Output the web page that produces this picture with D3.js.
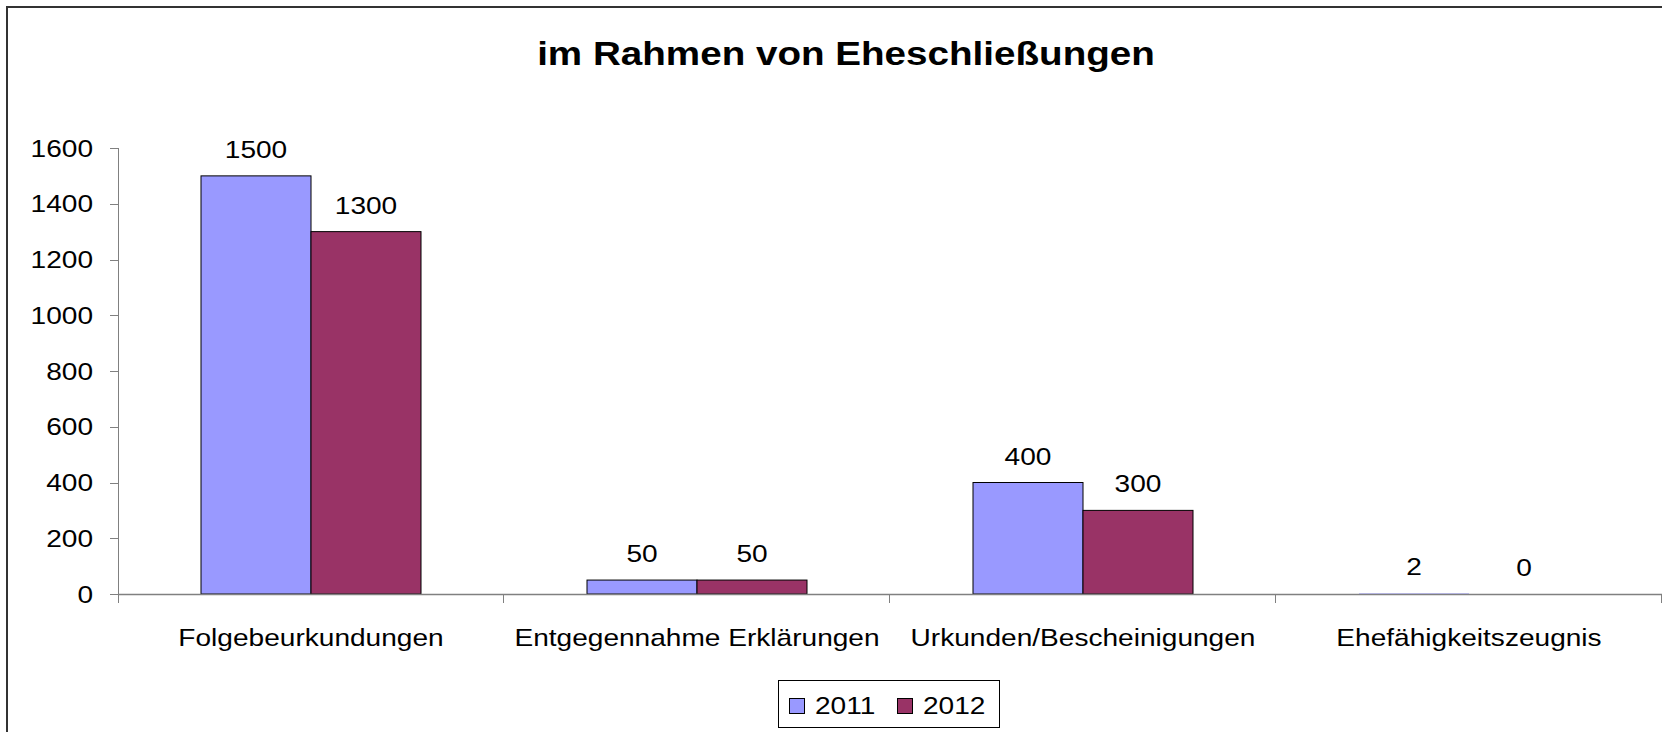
<!DOCTYPE html>
<html>
<head>
<meta charset="utf-8">
<script src="https://cdn.jsdelivr.net/npm/d3@7"></script>
<style>
  body { margin: 0; background: #fff; }
  svg { display: block; }
  text { font-family: "Liberation Sans", Arial, sans-serif; fill: #000; }
</style>
</head>
<body>
<svg id="chart" width="1662" height="732"></svg>
<script>
// data
var categories = ["Folgebeurkundungen", "Entgegennahme Erklärungen", "Urkunden/Bescheinigungen", "Ehefähigkeitszeugnis"];
var series = ["2011", "2012"];
var values2011 = [1500, 50, 400, 2];
var values2012 = [1300, 50, 300, 0];
var yTicks = [0, 200, 400, 600, 800, 1000, 1200, 1400, 1600];
var colors = ["#9999ff", "#993366"];
var title = "im Rahmen von Eheschließungen";

var svg = d3.select("#chart");
var stretch = 1.17; // the original text is a bit wider than plain Arial

var plotLeft = 118, plotRight = 1662, plotTop = 148, plotBottom = 594;

var x0 = d3.scaleBand().domain(categories).range([plotLeft, plotRight]);
var groupW = 220;
var x1 = d3.scaleBand().domain(series).range([0, groupW]);
var y = d3.scaleLinear().domain([0, 1600]).range([plotBottom, plotTop]);

function label(g, x, yy, txt, anchor, size, weight) {
  return g.append("text")
    .attr("transform", "translate(" + x + "," + yy + ") scale(" + stretch + ",1)")
    .attr("text-anchor", anchor)
    .style("font-size", size + "px")
    .style("font-weight", weight || "normal")
    .text(txt);
}

// outer frame (right and bottom edges lie outside the picture)
svg.append("rect")
  .attr("x", 7).attr("y", 7)
  .attr("width", 1700).attr("height", 800)
  .attr("fill", "none")
  .attr("stroke", "#333")
  .attr("stroke-width", 2);

label(svg, 846, 65, title, "middle", 33, "bold");

// bars
var rows = categories.map(function(c, i) {
  return { cat: c, vals: [values2011[i], values2012[i]] };
});

var groups = svg.selectAll(".grp")
    .data(rows)
  .enter().append("g")
    .attr("class", "grp")
    .attr("transform", function(d) {
      return "translate(" + (x0(d.cat) + (x0.bandwidth() - groupW) / 2) + ",0)";
    });

groups.selectAll("rect")
    .data(function(d) { return d.vals.map(function(v, j) { return { s: series[j], v: v, j: j }; }); })
  .enter().append("rect")
    .attr("x", function(d) { return x1(d.s); })
    .attr("width", x1.bandwidth())
    .attr("y", function(d) { return y(d.v); })
    .attr("height", function(d) { return y(0) - y(d.v); })
    .attr("fill", function(d) { return colors[d.j]; })
    .attr("stroke", function(d) { return d.v > 5 ? "#000" : "none"; })
    .attr("stroke-width", 1);

groups.each(function(d) {
  var g = d3.select(this);
  d.vals.forEach(function(v, j) {
    label(g, x1(series[j]) + x1.bandwidth() / 2, y(v) - 18, v, "middle", 24);
  });
});

// axes
var axisColor = "#808080";
var yAxis = svg.append("g").attr("transform", "translate(" + plotLeft + ",0)");
yAxis.append("line")
  .attr("x1", 0.5).attr("x2", 0.5)
  .attr("y1", y(1600)).attr("y2", plotBottom + 9)
  .attr("stroke", axisColor);
yAxis.selectAll(".tk")
    .data(yTicks)
  .enter().append("line")
    .attr("x1", -8).attr("x2", 0)
    .attr("y1", function(d) { return Math.round(y(d)) + 0.5; })
    .attr("y2", function(d) { return Math.round(y(d)) + 0.5; })
    .attr("stroke", axisColor);
yTicks.forEach(function(t) {
  label(yAxis, -25, y(t) + 8.5, t, "end", 24);
});

var xAxis = svg.append("g");
xAxis.append("line")
  .attr("x1", plotLeft).attr("x2", plotRight)
  .attr("y1", plotBottom + 0.5).attr("y2", plotBottom + 0.5)
  .attr("stroke", axisColor).attr("stroke-width", 1.5);
xAxis.selectAll(".tk")
    .data(categories)
  .enter().append("line")
    .attr("x1", function(d) { return x0(d) + x0.bandwidth() - 0.5; })
    .attr("x2", function(d) { return x0(d) + x0.bandwidth() - 0.5; })
    .attr("y1", plotBottom).attr("y2", plotBottom + 9)
    .attr("stroke", axisColor);
categories.forEach(function(c) {
  label(xAxis, x0(c) + x0.bandwidth() / 2, 646, c, "middle", 24);
});

// legend
var leg = svg.append("g").attr("transform", "translate(778,680)");
leg.append("rect")
  .attr("x", 0.5).attr("y", 0.5)
  .attr("width", 221).attr("height", 47)
  .attr("fill", "#fff")
  .attr("stroke", "#000");
var legX = [11, 119];
series.forEach(function(s, i) {
  leg.append("rect")
    .attr("x", legX[i] + 0.5).attr("y", 18.5)
    .attr("width", 15).attr("height", 15)
    .attr("fill", colors[i])
    .attr("stroke", "#000");
  label(leg, legX[i] + 26, 33.5, s, "start", 24);
});
</script>
</body>
</html>
